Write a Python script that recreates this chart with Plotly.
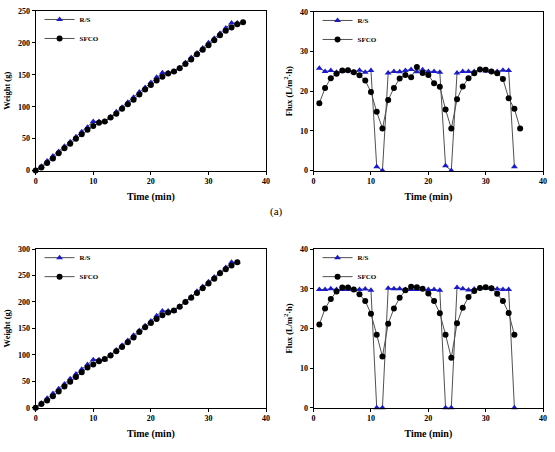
import plotly.graph_objects as go

# ---------------- data ----------------
t_a = list(range(0, 37))
w_rs_a = [0, 7, 15, 23, 30, 38, 45, 53, 61, 68, 77, 77, 77, 84, 92, 99, 107, 115, 123, 130,
          138, 146, 153, 153, 155, 161, 169, 177, 184, 192, 200, 207, 215, 223, 231, 231]
w_sf_a = [0, 5, 12, 19, 27, 35, 42, 50, 57, 64, 70, 75, 77, 83, 89, 97, 104, 111, 119, 127,
          134, 141, 147, 152, 155, 160, 167, 174, 182, 189, 196, 204, 212, 219, 224, 229, 232]

tf_a = list(range(1, 37))
f_rs_a = [25.8, 25.0, 25.2, 24.8, 25.0, 25.2, 24.8, 25.3, 24.8, 25.2, 1.0, 0.0,
          24.6, 25.0, 24.9, 25.2, 25.5, 24.9, 25.4, 25.0, 25.0, 24.8, 1.2, 0.0,
          24.6, 25.0, 25.0, 25.0, 25.5, 25.1, 25.0, 25.0, 25.3, 25.2, 1.0]
f_sf_a = [17.0, 20.8, 23.3, 24.4, 25.2, 25.3, 24.8, 24.0, 22.7, 19.8, 14.8, 10.6,
          17.8, 20.8, 23.2, 24.1, 23.5, 26.1, 24.6, 24.1, 22.0, 21.1, 15.4, 10.6,
          18.0, 21.2, 23.3, 24.5, 25.5, 25.4, 25.0, 24.5, 23.1, 18.2, 15.6, 10.6]

t_b = list(range(0, 36))
w_rs_b = [0, 9, 18, 27, 36, 45, 55, 64, 73, 82, 91, 91, 91, 100, 109, 118, 127, 137, 146, 155,
          164, 174, 183, 183, 183, 192, 201, 210, 220, 229, 238, 247, 256, 265, 275, 275]
w_sf_b = [0, 7, 14, 22, 31, 40, 49, 58, 67, 76, 82, 88, 92, 99, 107, 115, 124, 133, 143, 152,
          160, 168, 175, 180, 184, 191, 200, 208, 217, 226, 235, 244, 254, 262, 269, 275]

tf_b = list(range(1, 36))
f_rs_b = [29.8, 29.8, 30.0, 29.8, 29.8, 29.8, 29.8, 29.8, 29.9, 29.6, 0.0, 0.0,
          30.1, 30.0, 30.0, 29.8, 29.8, 29.8, 29.9, 29.8, 29.8, 29.6, 0.0, 0.0,
          30.3, 30.0, 29.7, 29.9, 30.2, 30.2, 30.1, 29.9, 29.8, 29.8, 0.0]
f_sf_b = [21.0, 25.0, 27.4, 29.3, 30.3, 30.3, 29.8, 28.6, 26.9, 23.7, 18.4, 12.9,
          21.2, 25.0, 27.7, 29.6, 30.5, 30.4, 30.0, 28.8, 26.9, 23.8, 18.4, 12.6,
          21.3, 25.2, 27.9, 29.4, 30.2, 30.4, 30.1, 28.7, 26.9, 23.9, 18.4]

series_names = ["R/S", "SFCO"]
x_ticks = [0, 10, 20, 30, 40]

# ---------------- figure ----------------
W, H = 555, 452
FONT = "Liberation Serif"
BLUE = "#1a1acc"
LINE = "#505050"


def xd(a, b):
    return [a / W, b / W]


def yd(top, bottom):
    return [1 - bottom / H, 1 - top / H]


panels = [
    (xd(34, 267), yd(7, 170), t_a, w_rs_a, w_sf_a, t_a, [0, 250], 50, "Weight (g)"),
    (xd(315, 547), yd(8, 170), tf_a, f_rs_a, f_sf_a, tf_a, [0, 40], 10, "Flux (L/m<sup>2</sup>·h)"),
    (xd(34, 267), yd(250, 412), t_b, w_rs_b, w_sf_b, t_b, [0, 300], 50, "Weight (g)"),
    (xd(315, 547), yd(250, 412), tf_b, f_rs_b, f_sf_b, tf_b, [0, 40], 10, "Flux (L/m<sup>2</sup>·h)"),
]

fig = go.Figure()
layout = dict(
    width=W, height=H, margin=dict(l=0, r=0, t=0, b=0),
    paper_bgcolor="white", plot_bgcolor="white",
    font=dict(family=FONT, color="black"),
    showlegend=True,
)

for i, (xdom, ydom, xr, rs, sf, xs, yr, ydt, ytitle) in enumerate(panels):
    n = i + 1
    sx = "" if n == 1 else str(n)
    leg = "legend" if n == 1 else f"legend{n}"
    fig.add_trace(go.Scatter(
        x=xr[:len(rs)], y=rs, name=series_names[0], mode="lines+markers",
        line=dict(color=LINE, width=1),
        marker=dict(symbol="triangle-up", size=6, color=BLUE),
        xaxis="x" + sx, yaxis="y" + sx, legend=leg, cliponaxis=False))
    fig.add_trace(go.Scatter(
        x=xs[:len(sf)], y=sf, name=series_names[1], mode="lines+markers",
        line=dict(color=LINE, width=1),
        marker=dict(symbol="circle", size=6, color="black"),
        xaxis="x" + sx, yaxis="y" + sx, legend=leg, cliponaxis=False))

    axcommon = dict(showline=True, linecolor="black", linewidth=1, mirror=True,
                    showgrid=False, zeroline=False, ticks="outside", ticklen=3,
                    tickcolor="black",
                    tickfont=dict(family=FONT, size=8, weight="bold", color="black"))
    layout["xaxis" + sx] = dict(
        domain=xdom, range=[0, 40], tickvals=x_ticks, anchor="y" + sx,
        title=dict(text="Time (min)", font=dict(family=FONT, size=10, weight="bold"),
                   standoff=7),
        **axcommon)
    layout["yaxis" + sx] = dict(
        domain=ydom, range=yr, dtick=ydt, anchor="x" + sx,
        title=dict(text=ytitle, font=dict(family=FONT, size=8.5, weight="bold"),
                   standoff=6),
        **axcommon)
    layout[leg] = dict(
        x=xdom[0] + 4 / W, y=ydom[1] + 6 / H, xanchor="left", yanchor="top",
        bgcolor="rgba(0,0,0,0)", borderwidth=0,
        font=dict(family=FONT, size=7, weight="bold"),
        itemwidth=30, tracegroupgap=0)

layout["annotations"] = [dict(text="(a)", x=277 / W, y=1 - 212 / H, xref="paper", yref="paper",
                              showarrow=False, font=dict(family=FONT, size=11))]
fig.update_layout(**layout)
fig.write_html("out.html")
